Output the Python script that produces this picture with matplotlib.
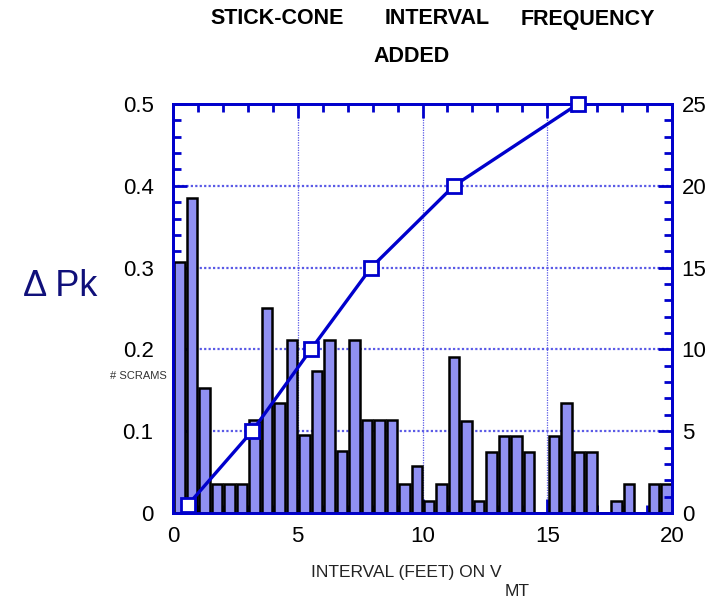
import matplotlib
matplotlib.use("Agg")
import matplotlib.pyplot as plt
from matplotlib.ticker import MultipleLocator
import numpy as np

plt.rcParams['font.family'] = ['Liberation Sans', 'DejaVu Sans']

# Histogram bins: 0.5 ft wide, left axis (Delta Pk)
bin_width = 0.5
bar_heights = [0.307, 0.385, 0.153, 0.035, 0.035, 0.035, 0.114, 0.251, 0.135, 0.212,
               0.095, 0.174, 0.212, 0.076, 0.212, 0.114, 0.114, 0.114, 0.035, 0.057,
               0.015, 0.035, 0.191, 0.112, 0.015, 0.075, 0.094, 0.094, 0.075, 0.0,
               0.094, 0.134, 0.075, 0.075, 0.0, 0.015, 0.035, 0.0, 0.035, 0.035]

# Cumulative line, right axis (# scrams)
line_x = [0.6, 3.17, 5.53, 7.94, 11.26, 16.23]
line_y = [0.5, 5, 10, 15, 20, 25]

left_ticks = [0, 0.1, 0.2, 0.3, 0.4, 0.5]
right_ticks = [0, 5, 10, 15, 20, 25]
x_ticks = [0, 5, 10, 15, 20]

W, H = 721, 599
fig = plt.figure(figsize=(W / 100, H / 100), dpi=100)
ax = fig.add_axes([173 / W, 1 - 513 / H, (672 - 173) / W, (513 - 104) / H])
ax2 = ax.twinx()

blue = '#0000cc'
gridc = '#5a5ae6'

ax.set_xlim(0, 20)
ax.set_ylim(0, 0.5)
ax2.set_ylim(0, 25)

centers = np.arange(len(bar_heights)) * bin_width + 0.27
ax.bar(centers, bar_heights, width=0.42, color='#9090f2', edgecolor='black',
       linewidth=1.8, zorder=3)

# grid
for gx in [5, 10, 15]:
    ax.axvline(gx, color=gridc, lw=0.9, ls=(0, (1, 1)), zorder=1)
for gy in [0.1, 0.2, 0.3, 0.4]:
    ax.axhline(gy, color=gridc, lw=1.6, ls=(0, (1, 1)), zorder=1)

ax2.plot(line_x, line_y, color=blue, lw=2.4, marker='s', markersize=10,
         markerfacecolor='white', markeredgecolor=blue, markeredgewidth=2,
         clip_on=False, zorder=5)

for a in (ax, ax2):
    for s in a.spines.values():
        s.set_color(blue)
        s.set_linewidth(2)

ax.set_xticks(x_ticks)
ax.set_xticklabels([str(v) for v in x_ticks])
ax.xaxis.set_minor_locator(MultipleLocator(1))
ax.set_yticks(left_ticks)
ax.set_yticklabels(['0', '0.1', '0.2', '0.3', '0.4', '0.5'])
ax.yaxis.set_minor_locator(MultipleLocator(0.02))
ax2.set_yticks(right_ticks)
ax2.set_yticklabels([str(v) for v in right_ticks])
ax2.yaxis.set_minor_locator(MultipleLocator(1))

ax.tick_params(axis='x', which='both', direction='in', top=True, bottom=True,
               color=blue, width=2, labelsize=16, pad=9)
ax.tick_params(axis='x', which='major', length=10)
ax.tick_params(axis='x', which='minor', length=6)
ax.tick_params(axis='y', which='both', direction='in', left=True, right=False,
               color=blue, width=2, labelsize=16, pad=14)
ax.tick_params(axis='y', which='major', length=10)
ax.tick_params(axis='y', which='minor', length=6)
ax2.tick_params(axis='y', which='both', direction='in', right=True, color=blue,
                width=2, labelsize=16, pad=7)
ax2.tick_params(axis='y', which='major', length=10)
ax2.tick_params(axis='y', which='minor', length=6)

# Titles and labels
def ft(x, y, s, **kw):
    fig.text(x / W, 1 - y / H, s, **kw)

ft(277.5, 19, 'STICK-CONE', fontsize=15.5, fontweight='bold', ha='center', va='center')
ft(436.7, 19, 'INTERVAL', fontsize=15.5, fontweight='bold', ha='center', va='center')
ft(588.3, 19, 'FREQUENCY', fontsize=15.5, fontweight='bold', ha='center', va='center')
ft(411.7, 56, 'ADDED', fontsize=15.5, fontweight='bold', ha='center', va='center')

ft(60, 286, 'Δ Pk', fontsize=26, color='#10107a', ha='center', va='center')

ft(406, 573, 'INTERVAL (FEET) ON V', fontsize=12.5, color='#222222', ha='center', va='center')
ft(517, 592, 'MT', fontsize=12.5, color='#222222', ha='center', va='center')

ft(138, 376, '# SCRAMS', fontsize=8, color='#333333', ha='center', va='center')

fig.savefig('out.png', dpi=100)
